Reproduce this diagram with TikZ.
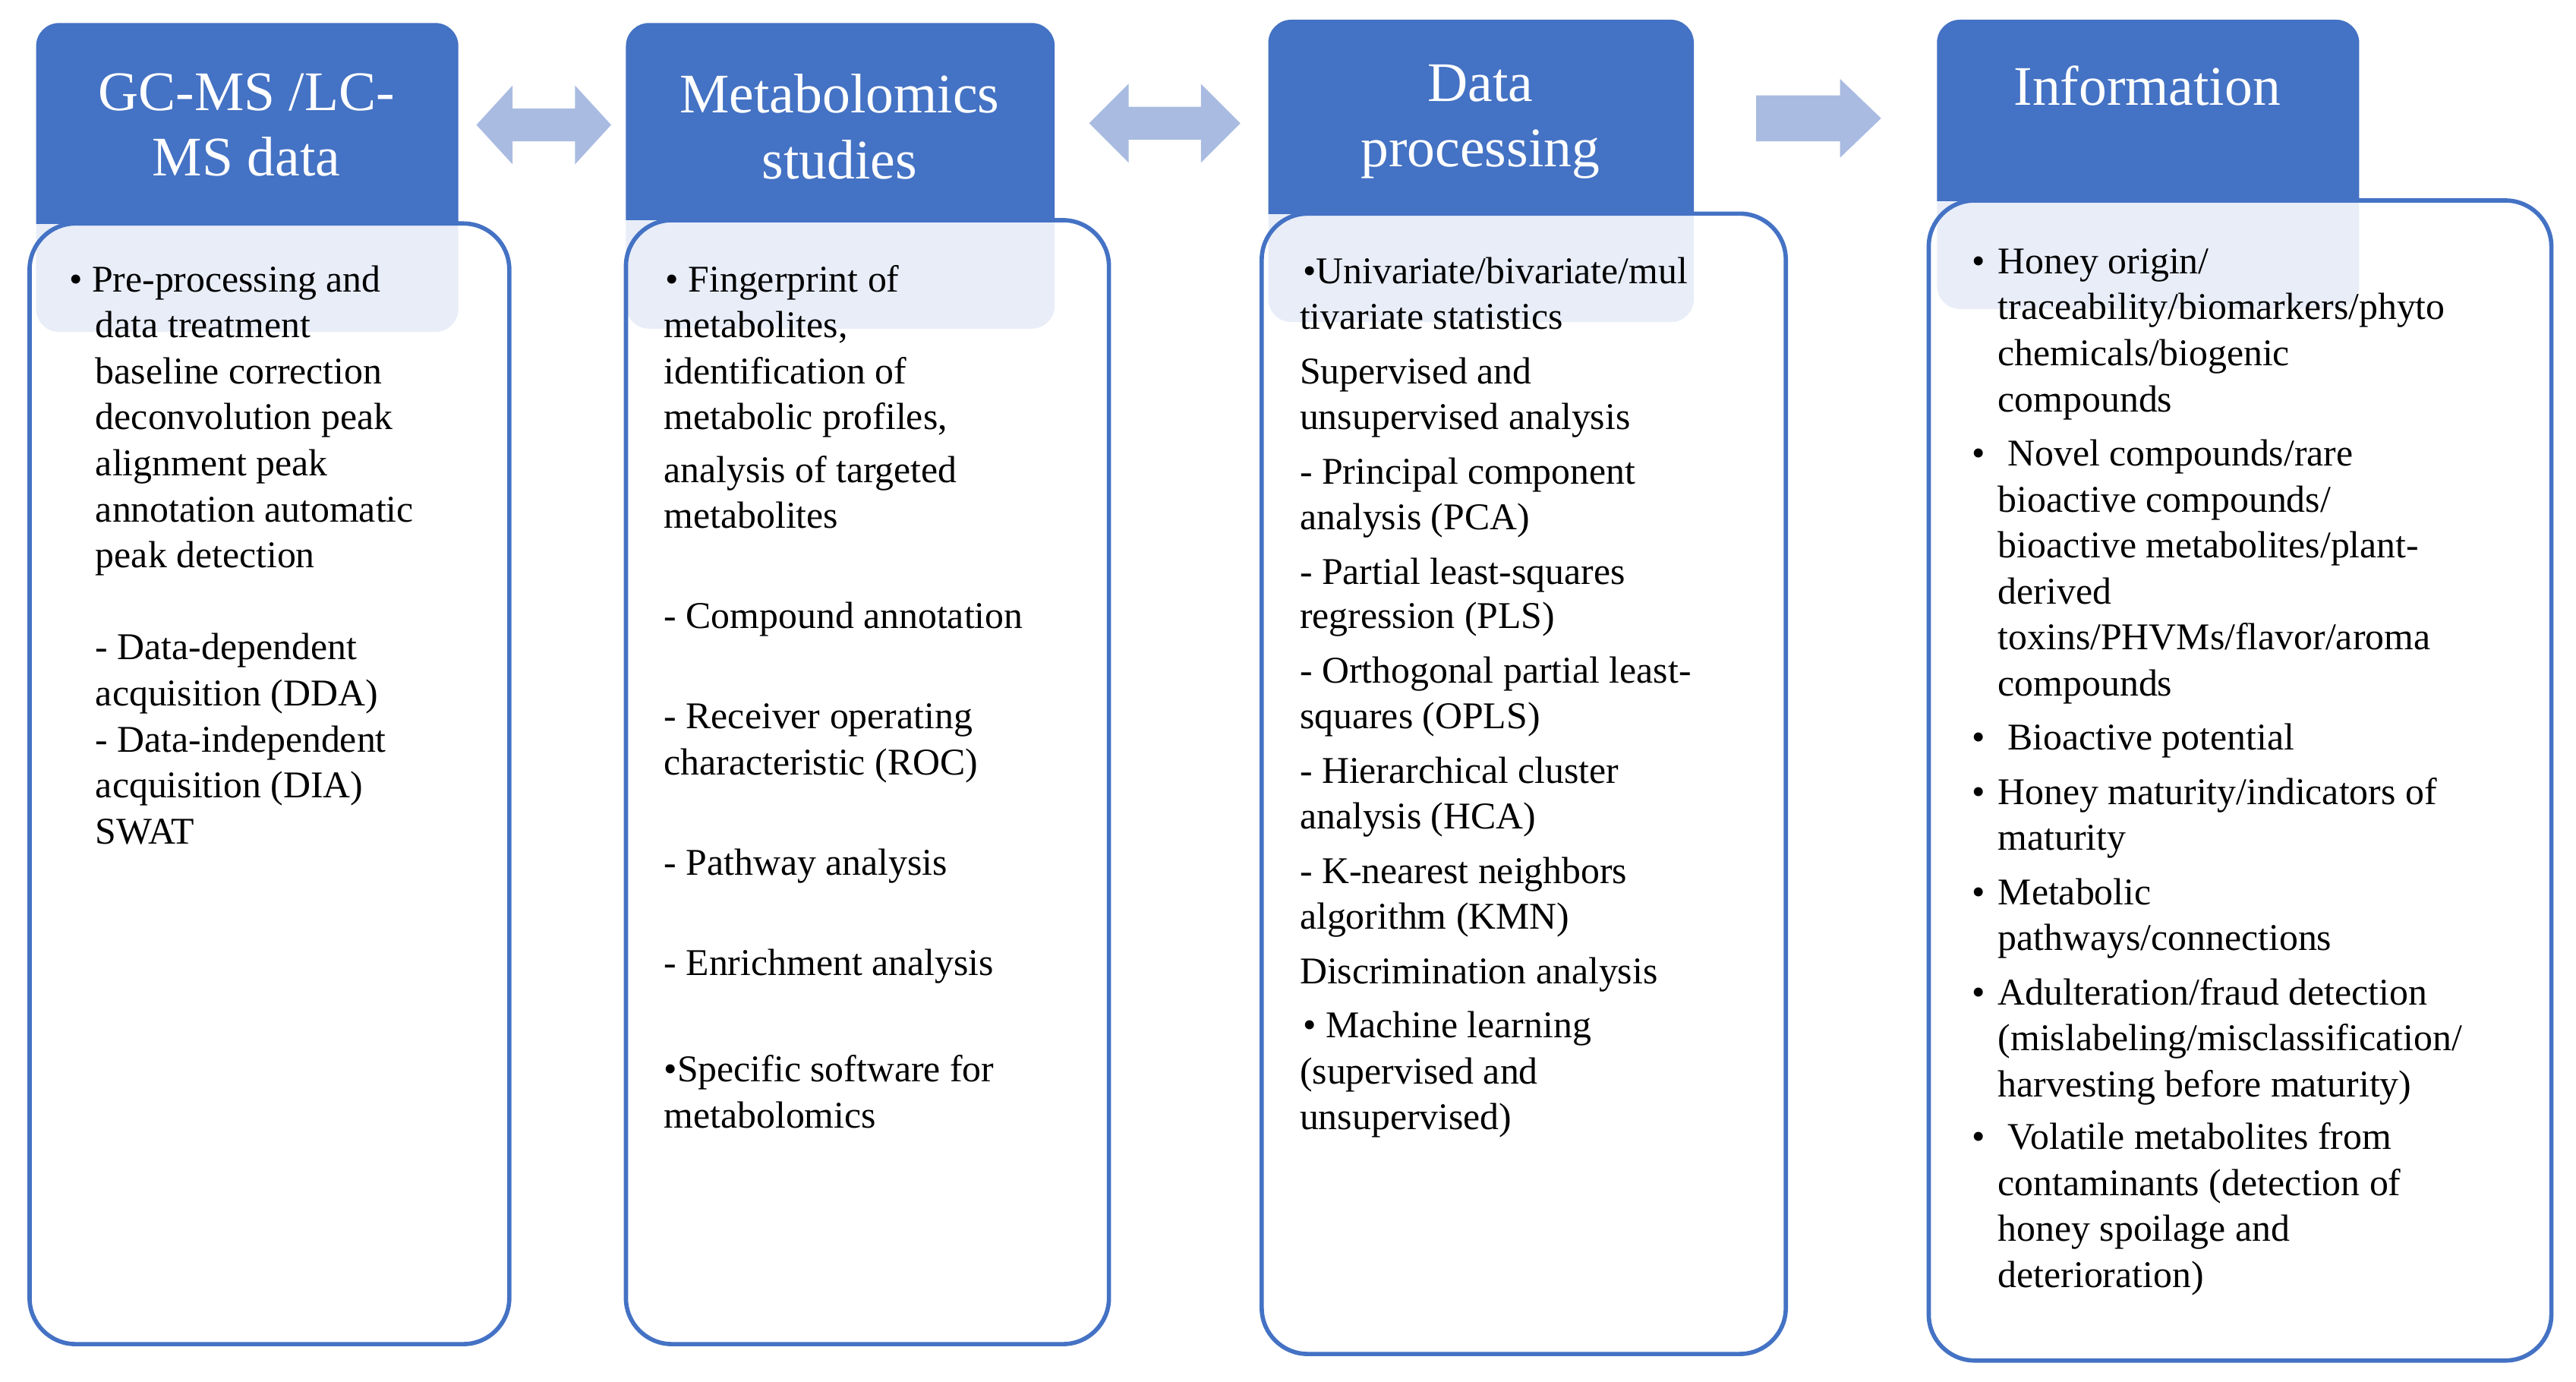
\documentclass[tikz,border=0pt]{standalone}
\usepackage{fontspec}
\setmainfont{Liberation Serif}
\definecolor{hdr}{HTML}{4472C4}
\definecolor{arr}{HTML}{A9BBE1}
\definecolor{lite}{HTML}{E8EDF8}
\begin{document}
\begin{tikzpicture}[x=1pt,y=-1pt,
  box/.style={draw=hdr,line width=2.6pt,rounded corners=28pt},
  tab/.style={fill=hdr,rounded corners=14pt},
  htxt/.style={text=white,font=\fontsize{34}{40}\selectfont,align=center},
  txt/.style={anchor=west,inner sep=0pt,text height=15pt,text depth=4pt,font=\fontsize{23}{28}\selectfont},
  arrw/.style={fill=arr,draw=none}]
\useasboundingbox (0,0) rectangle (1568,841);
% columns: tab x1,x2,top ; box x1,x2,top,bottom
\foreach \n/\tx/\tX/\tt/\bx/\bX/\bt/\bb in {a/22/279/14/18/310/136/818, b/381/642/14/381/675/134/818, c/772/1031/12/768/1087/130/824, d/1179/1436/12/1174/1553/122/828}{
  \fill[white,rounded corners=28pt] (\bx,\bt) rectangle (\bX,\bb);
  \fill[lite,rounded corners=14pt] (\tx,\tt) rectangle (\tX,\bt+66);
  \begin{scope}
    \clip (\tx-5,\tt-5) rectangle (\tX+5,\bt);
    \fill[tab] (\tx,\tt) rectangle (\tX,\bt+40);
  \end{scope}
  \draw[box] (\bx,\bt) rectangle (\bX,\bb) node[pos=0.5,inner sep=0] (box\n) {};
}
\node[htxt] (h1) at (150,76) {GC-MS /LC-\\MS data};
\node[htxt] (h2) at (511,77) {Metabolomics\\studies};
\node[htxt] (h3) at (901,74) {Data\\processing};
\node[htxt] (h4) at (1307,52) {Information};
% arrows
\fill[arrw] (290,76)--(312,52)--(312,66)--(350,66)--(350,52)--(372,76)--(350,100)--(350,86)--(312,86)--(312,100)--cycle;
\fill[arrw] (663,75)--(687,51)--(687,65)--(731,65)--(731,51)--(755,75)--(731,99)--(731,85)--(687,85)--(687,99)--cycle;
\fill[arrw] (1069,58)--(1120,58)--(1120,48)--(1145,72)--(1120,96)--(1120,86)--(1069,86)--cycle;
% column 1
\foreach \x/\y/\t [count=\i] in {42/172/{• Pre-processing and},58/200/{data treatment},58/228/{baseline correction},58/256/{deconvolution peak},58/284/{alignment peak},58/312/{annotation automatic},58/340/{peak detection},58/396/{- Data-dependent},58/424/{acquisition (DDA)},58/452/{- Data-independent},58/480/{acquisition (DIA)},58/508/{SWAT}}
  \node[txt] (ta\i) at (\x,\y) {\t};
% column 2
\foreach \x/\y/\t [count=\i] in {405/172/{• Fingerprint of},404/200/{metabolites,},404/228/{identification of},404/256/{metabolic profiles,},404/288/{analysis of targeted},404/316/{metabolites},404/377/{- Compound annotation},404/438/{- Receiver operating},404/466/{characteristic (ROC)},404/527/{- Pathway analysis},404/588/{- Enrichment analysis},404/653/{•Specific software for},404/681/{metabolomics}}
  \node[txt] (tb\i) at (\x,\y) {\t};
% column 3
\foreach \x/\y/\t [count=\i] in {793/167/{•Univariate/bivariate/mul},791/195/{tivariate statistics},791/228/{Supervised and},791/256/{unsupervised analysis},791/289/{- Principal component},791/317/{analysis (PCA)},791/350/{- Partial least-squares},791/377/{regression (PLS)},791/410/{- Orthogonal partial least-},791/438/{squares (OPLS)},791/471/{- Hierarchical cluster},791/499/{analysis (HCA)},791/532/{- K-nearest neighbors},791/560/{algorithm (KMN)},791/593/{Discrimination analysis},793/626/{• Machine learning},791/654/{(supervised and},791/682/{unsupervised)}}
  \node[txt] (tc\i) at (\x,\y) {\t};
% column 4
\foreach \y in {161,278,451,484,545,606,694}
  \node[txt] (bd\y) at (1200,\y) {•};
\foreach \x/\y/\t [count=\i] in {1216/161/{Honey origin/},1216/189/{traceability/biomarkers/phyto},1216/217/{chemicals/biogenic},1216/245/{compounds},1222/278/{Novel compounds/rare},1216/306/{bioactive compounds/},1216/334/{bioactive metabolites/plant-},1216/362/{derived},1216/390/{toxins/PHVMs/flavor/aroma},1216/418/{compounds},1222/451/{Bioactive potential},1216/484/{Honey maturity/indicators of},1216/512/{maturity},1216/545/{Metabolic},1216/573/{pathways/connections},1216/606/{Adulteration/fraud detection},1216/634/{(mislabeling/misclassification/},1216/662/{harvesting before maturity)},1222/694/{Volatile metabolites from},1216/722/{contaminants (detection of},1216/750/{honey spoilage and},1216/778/{deterioration)}}
  \node[txt] (td\i) at (\x,\y) {\t};
\end{tikzpicture}
\end{document}
